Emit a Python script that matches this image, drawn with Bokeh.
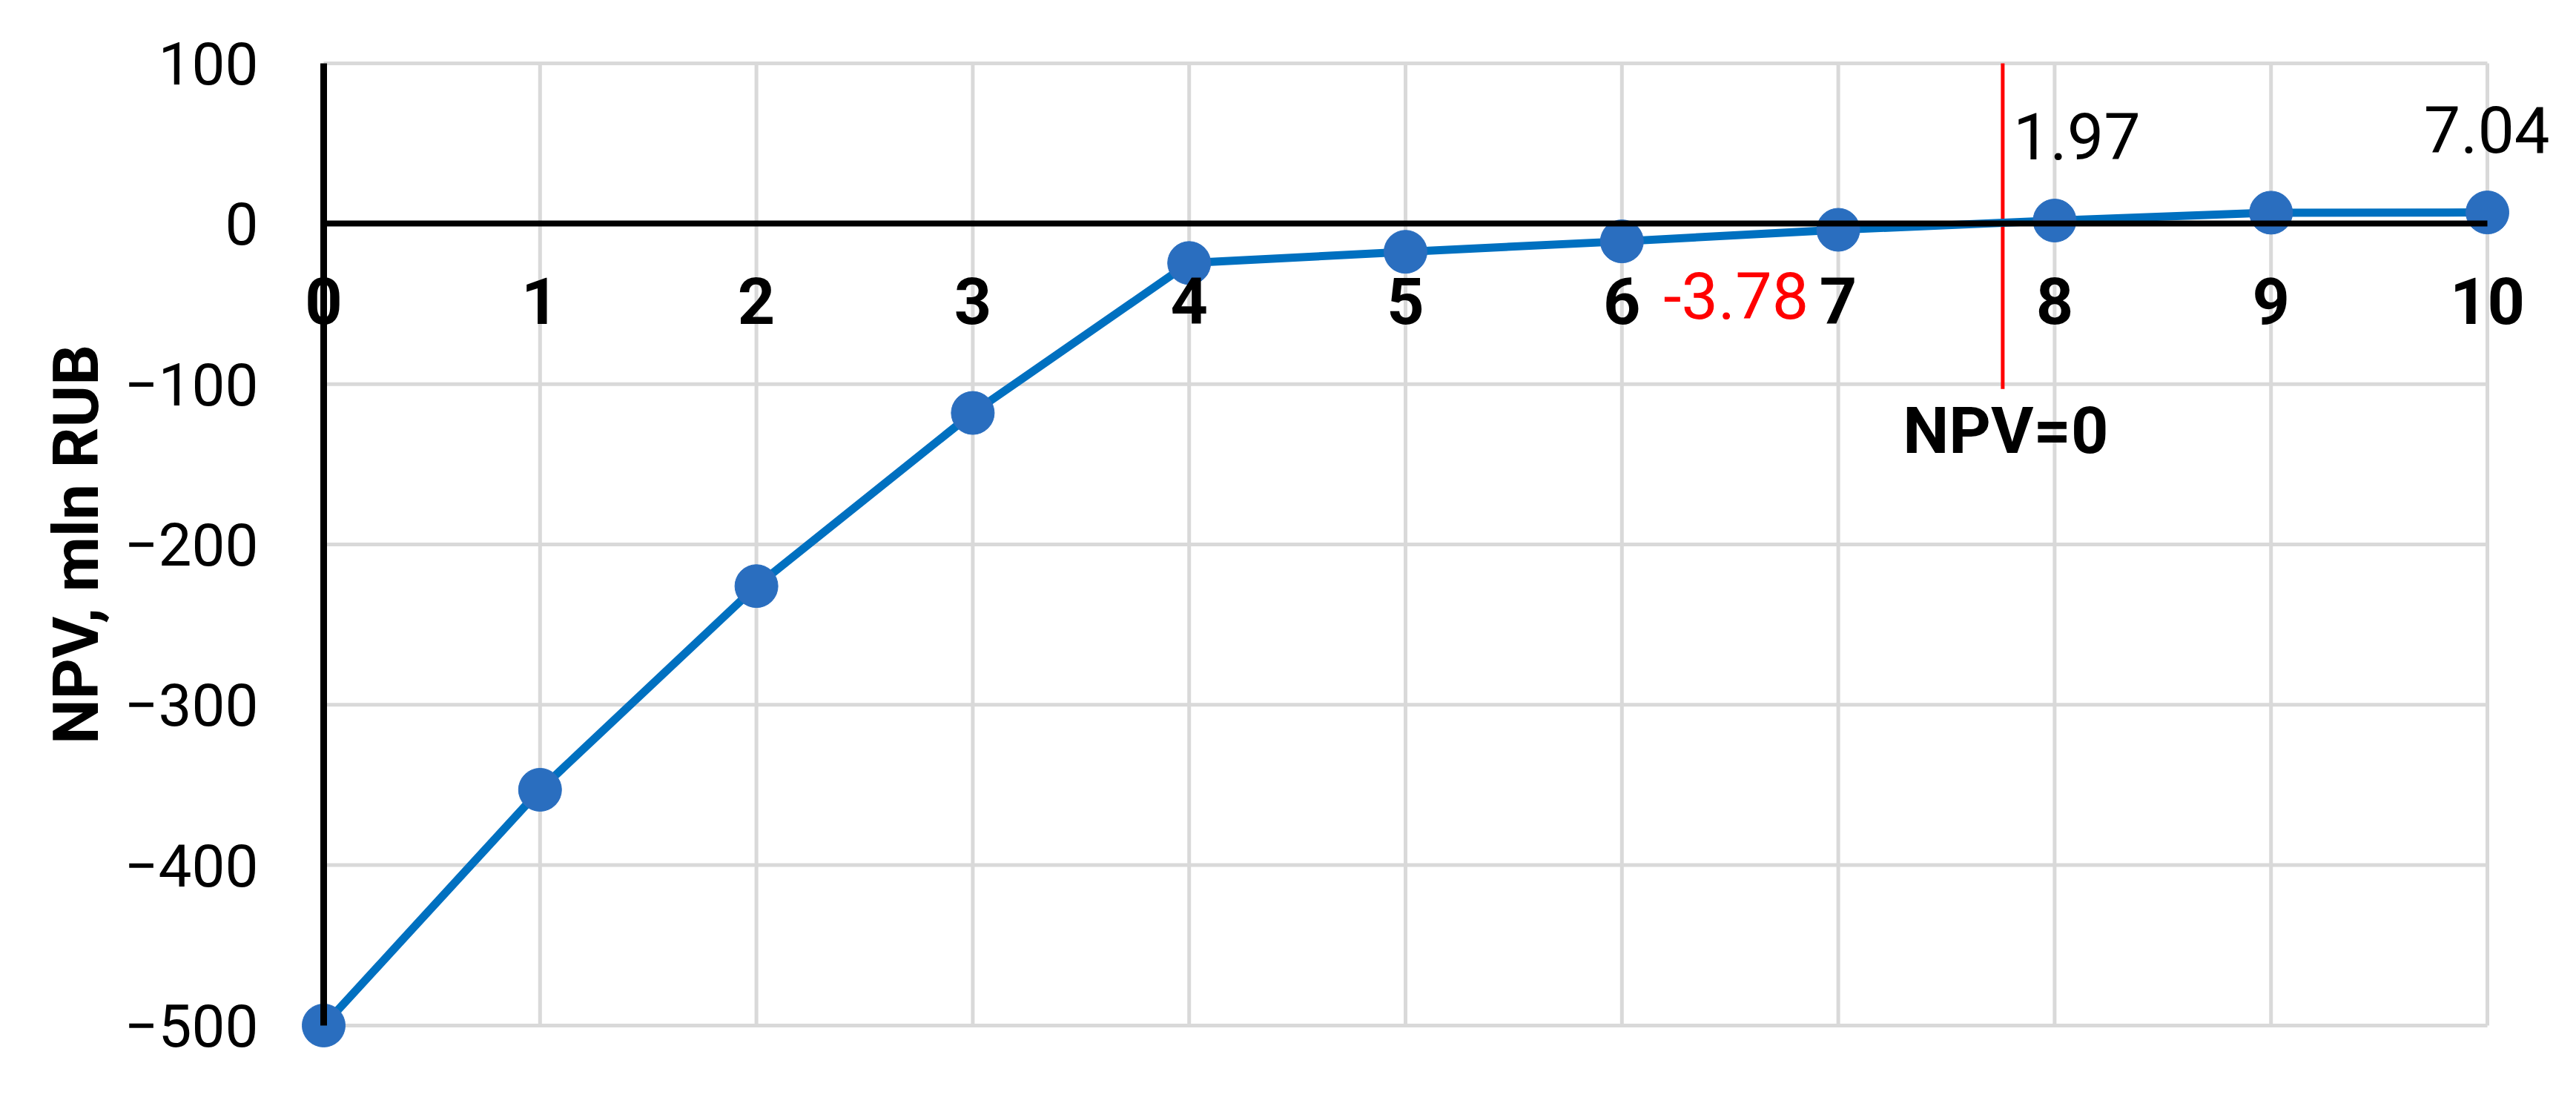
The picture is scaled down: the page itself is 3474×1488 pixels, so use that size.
from bokeh.plotting import figure
from bokeh.models import Range1d, FixedTicker, ColumnDataSource, CustomJSTickFormatter
from bokeh.core.properties import value
from bokeh.embed import file_html
from bokeh.resources import INLINE

# ---- data ----
years = [0, 1, 2, 3, 4, 5, 6, 7, 8, 9, 10]
npv = [-500, -353, -226, -118, -24.5, -17.5, -11, -3.78, 1.97, 6.9, 7.04]
x_ticks = [0, 1, 2, 3, 4, 5, 6, 7, 8, 9, 10]
y_ticks = [-500, -400, -300, -200, -100, 0, 100]
zero_x = 7.76          # where NPV crosses zero (red marker line)
zero_line_y = [100, -103]
zero_label = "NPV=0"
value_labels_x = [7, 8, 10]
value_labels_y = [-3.78, 1.97, 7.04]
value_labels_text = ["-3.78", "1.97", "7.04"]
y_title = "NPV, mln RUB"

FONT = "Roboto"

p = figure(width=3458, height=1472, output_backend="svg", toolbar_location=None,
           title=None,
           x_range=Range1d(-1.4599, 10.281), y_range=Range1d(-534.7, 126.35),
           min_border_left=10, min_border_right=22, min_border_top=28, min_border_bottom=14)
p.outline_line_color = None
p.grid.visible = False
p.background_fill_color = "white"

# grid lines (from tick arrays)
p.segment(x0=[x_ticks[0]] * len(y_ticks), x1=[x_ticks[-1]] * len(y_ticks), y0=y_ticks, y1=y_ticks,
          line_color="#D9D9D9", line_width=5)
p.segment(x0=x_ticks, x1=x_ticks, y0=[y_ticks[0]] * len(x_ticks), y1=[y_ticks[-1]] * len(x_ticks),
          line_color="#D9D9D9", line_width=5)

# red NPV=0 line
p.segment(x0=[zero_x], x1=[zero_x], y0=[zero_line_y[0]], y1=[zero_line_y[1]],
          line_color="#FF0000", line_width=5)
p.text(x=[zero_x], y=[zero_line_y[1]], text=[zero_label], text_align="center", text_baseline="middle",
       y_offset=56, x_offset=4, text_font=value(FONT), text_font_style="bold", text_font_size="88px",
       text_color="black")

# data series
src = ColumnDataSource(dict(x=years, y=npv))
p.line("x", "y", source=src, line_color="#0070C0", line_width=11)
p.scatter("x", "y", source=src, size=58, fill_color="#2A6EBF", line_color="#2A6EBF")

# value labels
p.text(x=[value_labels_x[1]], y=[value_labels_y[1]], text=[value_labels_text[1]], text_align="center",
       text_baseline="middle", x_offset=30, y_offset=-114, text_font=value(FONT),
       text_font_size="88px", text_color="black")
p.text(x=[value_labels_x[2]], y=[value_labels_y[2]], text=[value_labels_text[2]], text_align="center",
       text_baseline="middle", x_offset=0, y_offset=-112, text_font=value(FONT),
       text_font_size="88px", text_color="black")
p.text(x=[value_labels_x[0]], y=[value_labels_y[0]], text=[value_labels_text[0]], text_align="right",
       text_baseline="middle", x_offset=-40, y_offset=88, text_font=value(FONT),
       text_font_size="88px", text_color="#FF0000")

# x axis at y = 0
xa = p.xaxis[0]
xa.fixed_location = 0
xa.bounds = (x_ticks[0], x_ticks[-1])
xa.ticker = FixedTicker(ticks=x_ticks)
xa.axis_line_color = "black"
xa.axis_line_width = 8
xa.major_tick_line_color = None
xa.minor_tick_line_color = None
xa.major_label_text_font = FONT
xa.major_label_text_font_style = "bold"
xa.major_label_text_font_size = "88px"
xa.major_label_text_color = "black"
xa.major_label_standoff = 66
try:
    xa.major_label_background_fill_color = "white"
except Exception:
    pass

# y axis at x = 0
ya = p.yaxis[0]
ya.fixed_location = 0
ya.bounds = (y_ticks[0], y_ticks[-1])
ya.ticker = FixedTicker(ticks=y_ticks)
ya.formatter = CustomJSTickFormatter(code="return tick < 0 ? '\u2212' + Math.abs(tick) : String(tick);")
ya.axis_line_color = "black"
ya.axis_line_width = 9
ya.major_tick_line_color = None
ya.minor_tick_line_color = None
ya.major_label_text_font = FONT
ya.major_label_text_font_size = "80px"
ya.major_label_text_color = "black"
ya.major_label_standoff = 82
ya.axis_label = y_title
ya.axis_label_text_font = FONT
ya.axis_label_text_font_style = "bold"
ya.axis_label_text_font_size = "86px"
ya.axis_label_text_color = "black"
ya.axis_label_standoff = 12

open("out.html", "w").write(file_html(p, INLINE))
